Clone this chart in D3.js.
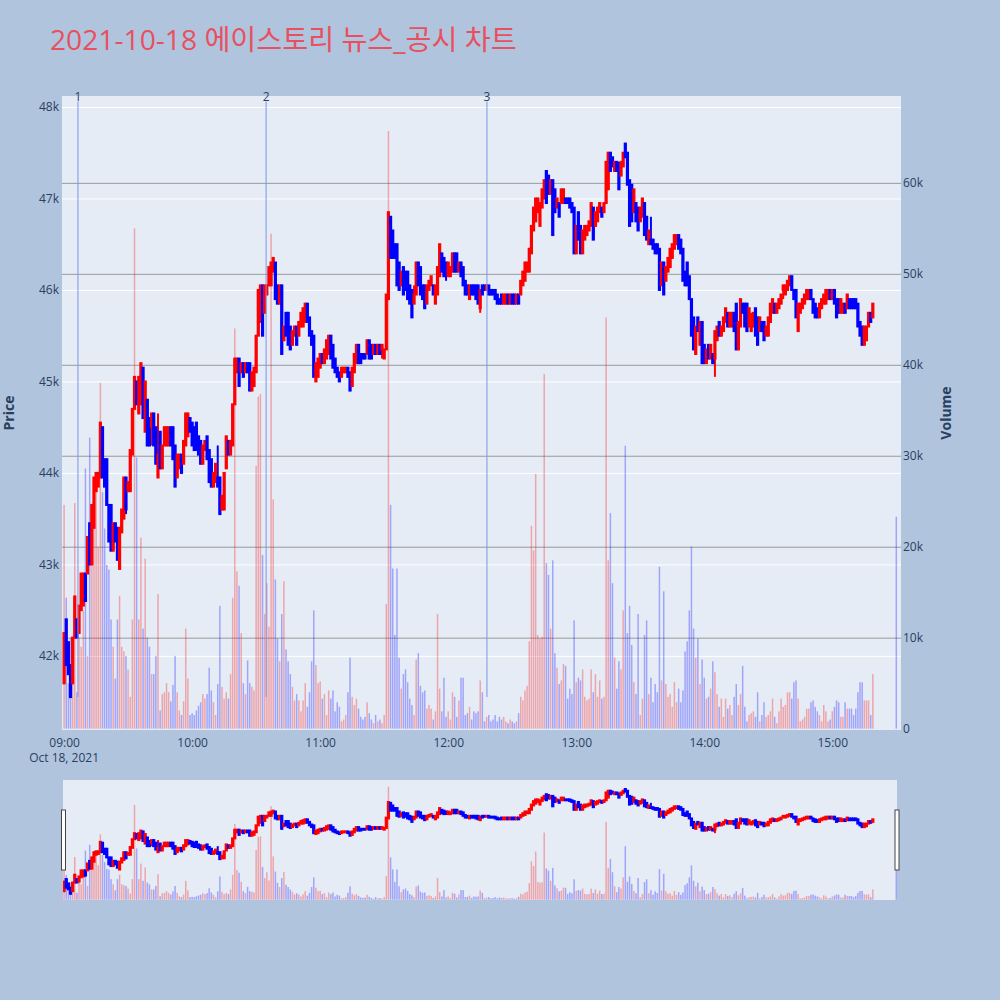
<!DOCTYPE html>
<html><head><meta charset="utf-8">
<script src="https://cdn.jsdelivr.net/npm/d3@7"></script>
<style>html,body{margin:0;padding:0;background:#b0c4de;}svg{display:block;}</style>
</head><body>
<svg id="chart" width="1000" height="1000"></svg>
<script>
// ---------------- data ----------------
const titleText = "2021-10-18 에이스토리 뉴스_공시 차트";
const sessionDay = [2021, 9, 18];          // year, monthIndex, day
const firstBar = [9, 0];                   // 09:00, one bar per minute
const openPrice = [
41700,42400,42150,41900,41700,42200,42400,42250,42500,42550,
42900,42900,43450,43000,43400,43800,43850,43950,44500,44150,
44150,43650,43650,43150,43450,43400,42950,43350,43500,43950,
43800,43800,44200,44700,45000,44650,44750,45150,44450,44800,
44600,44500,44650,44500,43950,44450,44050,44300,44300,44300,
44500,44500,44300,43950,44050,44200,44100,44300,44400,44600,
44550,44500,44550,44400,44350,44100,44250,44400,44250,44150,
43850,43900,43950,43950,43600,43600,44050,44350,44200,44300,
44750,45100,45250,45100,45200,45100,45200,45200,44900,44950,
45100,45500,45650,46050,45750,45950,46050,46050,46200,46300,
46050,45850,46050,45450,45750,45750,45600,45400,45500,45600,
45500,45600,45600,45650,45850,45700,45550,45500,45000,45050,
45150,45300,45200,45250,45300,45500,45400,45250,45150,45100,
45050,45100,45100,45150,45100,44950,45100,45200,45400,45300,
45300,45300,45300,45450,45400,45300,45400,45300,45400,45350,
45250,45350,45900,46800,46650,46500,46500,46300,46050,46250,
46200,46200,46050,46000,45850,45950,46300,46250,46050,46050,
45850,46000,46050,46050,45850,45950,46150,46400,46350,46300,
46150,46150,46200,46400,46400,46200,46300,46250,46100,46050,
45900,46050,46050,46050,46050,45800,46050,46050,46000,46050,
46000,46000,46000,45950,45900,45950,45850,45850,45950,45850,
45950,45950,45850,45950,45950,46050,46100,46200,46200,46400,
46650,46750,46850,46700,46900,47000,47300,47250,47050,47200,
47100,46900,46950,46950,46950,47000,47000,47000,46950,46900,
46400,46850,46700,46400,46550,46600,46650,46700,46900,46700,
46750,46850,46900,46850,46950,47100,47500,47450,47300,47400,
47300,47250,47350,47600,47500,47200,47150,46850,46950,46900,
46750,46800,46950,46800,46500,46550,46550,46500,46500,46450,
46050,46300,46100,46200,46250,46350,46450,46500,46600,46550,
46450,46200,46300,46150,45900,45700,45300,45700,45400,45650,
45400,45200,45400,45250,45300,45250,45450,45650,45500,45550,
45650,45750,45600,45600,45750,45850,45350,45600,45850,45850,
45850,45600,45550,45600,45800,45700,45550,45650,45650,45500,
45500,45650,45750,45850,45750,45800,45850,46000,45950,46000,
46050,46150,46000,46000,45550,45750,45800,45850,45900,45900,
46000,45900,45850,45800,45700,45800,45850,45850,45900,46000,
45900,46000,45900,45900,45750,45750,45850,45800,45900,45900,
45900,45900,45850,45650,45600,45400,45450,45600,45750,45700];
const closePrice = [
42250,41900,41800,41550,42200,42650,42200,42550,42900,42900,
42600,43300,43000,43650,43950,44000,44000,44550,43950,43850,
43650,43250,43150,43450,43250,43050,43400,43600,43950,43600,
43900,44250,44700,45050,44750,45050,45200,44600,45000,44300,
44300,44650,44300,44100,44200,44050,44300,44500,44500,44500,
44300,44150,43850,44200,44200,44000,44350,44650,44650,44450,
44300,44250,44250,44200,44100,44300,44350,44150,43900,43850,
44000,44100,43850,43550,43750,44000,44400,44200,44350,44750,
45250,45250,44950,45200,45050,45200,45100,44900,45100,45150,
45500,46000,46050,45500,46050,46050,46250,46300,46350,45900,
45850,46050,45300,45600,45500,45400,45350,45550,45600,45400,
45650,45750,45800,45850,45650,45500,45400,45050,45200,45250,
45300,45200,45350,45450,45500,45250,45150,45100,45050,45000,
45150,45150,45150,45050,44900,45150,45300,45400,45200,45200,
45250,45250,45450,45250,45250,45400,45300,45400,45300,45400,
45350,45950,46850,46350,46350,46350,46050,46000,46200,45950,
46000,45900,45850,45700,45950,46300,46050,45950,45900,45800,
46050,46100,46150,45950,46050,46250,46500,46200,46150,46250,
46300,46250,46400,46200,46200,46300,46150,46050,45950,45950,
46050,45950,45950,45900,45850,46000,45950,46000,46050,45950,
45950,45950,45900,45850,45850,45850,45950,45950,45850,45950,
45850,45850,45950,45850,46100,46200,46300,46300,46450,46700,
46900,47000,47000,46950,47100,47200,46950,47050,47200,46600,
46850,47000,46800,47100,47100,46950,46950,46900,46850,46400,
46700,46550,46400,46650,46700,46700,46750,46950,46550,46850,
46900,46950,46800,46950,47400,47500,47300,47350,47400,47300,
47100,47400,47500,47450,47150,46700,46750,47100,46750,46650,
46900,47000,46600,46550,46650,46500,46450,46400,46400,46000,
46300,45950,46250,46350,46450,46500,46600,46600,46450,46400,
46100,46050,46050,45900,45500,45350,45600,45550,45650,45200,
45200,45350,45250,45400,45200,45550,45600,45500,45600,45700,
45800,45600,45750,45750,45550,45350,45650,45900,45750,45600,
45550,45800,45600,45750,45500,45400,45700,45550,45450,45600,
45700,45850,45900,45750,45850,45900,45950,46050,46050,46100,
46150,46000,45900,45700,45850,45850,45900,45950,46000,46000,
45900,45750,45700,45700,45850,45900,45950,46000,46000,45900,
46000,45850,45700,45750,45900,45850,45750,45950,45800,45800,
45800,45800,45600,45500,45400,45600,45600,45750,45650,45850];
// [bar index, high, low] where the wick goes beyond the body
const wicks = [[29,43950,43550],[41,44650,44300],[44,44650,43950],[72,44300,43850],[87,45200,44900],
  [102,46050,45300],[117,45500,45050],[149,45400,45250],[164,46050,45850],[179,46300,46100],
  [195,46000,45750],[260,47400,47100],[275,46800,46500],[290,46450,46100],[305,45550,45050],
  [322,45750,45550],[337,46050,45900]];
const volumeThousands = [
24.6,14.4,5,10,5,24.8,4,10,9,13,
28.6,8,32,22,27,26,20,38,26,22,
18,17.5,12,9,5.5,12,14.6,9,8.5,8,
6.5,3.5,12,55,29.8,12,21,11,18.7,10,
9,6,6,8,14.8,2,3.8,4,5,4,
3,4.8,8,4,2,1.5,3,11,5.5,1.5,
1.7,1.5,2.0,2.5,2.9,3.8,3.3,3.8,6.7,4.2,
2.9,1.5,4.9,13.5,4.6,3.3,4.0,3.3,6.0,14.4,
44.0,17.3,15.7,10.5,5.0,3.8,7.5,5.0,4.6,4.2,
28.9,36.5,36.8,19.1,12.6,16.0,11.2,54.4,25.2,16.4,
9.9,7.4,12.6,16.2,8.7,7.4,6.0,4.6,3.1,3.8,
3.1,1.9,3.1,5.0,2.4,4.0,7.4,13.0,7.0,5.0,
5.2,3.3,3.8,1.5,4.2,3.3,4.2,1.9,2.9,2.4,
0.8,1.0,1.5,4.0,7.8,3.5,2.6,3.3,2.2,1.3,
1.0,1.3,2.9,1.7,1.0,0.6,1.5,0.8,1.0,0.6,
1.5,13.7,65.7,24.6,17.6,10.3,17.6,7.8,4.4,6.0,
6.5,5.1,3.3,2.6,1.5,7.6,8.3,4.7,4.0,4.2,
2.2,2.6,2.2,1.0,1.9,12.6,4.4,1.9,5.6,1.3,
1.9,1.0,4.0,3.5,1.3,3.1,5.6,5.6,1.5,1.7,
2.4,1.0,1.9,1.7,1.9,5.3,4.0,0.8,1.3,1.5,
0.8,1.0,1.5,0.8,1.3,1.0,1.3,0.8,0.6,1.0,
0.8,0.6,0.8,1.7,3.5,3.1,4.2,4.7,9.6,22.3,
19.6,28.0,10.3,9.9,10.1,39.0,18.2,16.9,11.0,18.5,
8.3,6.7,4.9,5.3,7.1,6.9,3.3,4.4,3.8,11.9,
5.1,5.6,5.3,6.5,3.5,3.1,3.3,6.5,4.0,6.0,
3.5,5.3,3.3,3.5,45.2,18.5,23.7,16.0,7.8,4.4,
7.4,6.5,13.0,31.1,10.5,13.5,9.2,5.1,3.8,12.6,
1.5,3.3,10.3,11.9,3.8,5.6,2.9,4.9,4.0,17.8,
5.3,15.1,4.9,3.5,3.8,2.4,5.1,2.9,4.4,2.9,
4.2,8.5,9.6,13.0,20.0,11.0,7.8,9.9,4.9,7.6,
5.6,3.3,3.5,4.4,7.4,6.2,3.8,2.4,3.3,1.3,
3.3,2.2,2.6,1.5,3.5,4.9,2.6,3.8,6.9,2.4,
0.8,1.5,1.7,1.9,1.3,4.0,0.8,1.5,2.9,1.3,
1.5,1.9,3.3,1.3,0.6,1.9,3.3,2.4,2.6,4.0,
4.0,3.3,5.1,5.3,3.3,0.8,1.0,1.3,2.2,2.2,
2.9,3.1,2.4,1.9,1.5,0.8,2.6,1.9,0.8,1.0,
1.9,2.4,3.1,2.9,1.3,1.3,2.9,2.2,2.2,2.2,
1.5,2.2,4.0,5.1,5.1,3.1,3.1,3.1,1.5,6.0];
// closing single-price auction bar
const auctionTime = [15, 30];
const auctionOHLC = [45800, 45800, 45800, 45800];
const auctionVolumeThousands = 23.3;
// news / disclosure markers
const newsTimes = [[9, 6, 30], [10, 34, 40], [12, 18, 10]];
const newsLabels = ["1", "2", "3"];
const priceTicks = [42000, 43000, 44000, 45000, 46000, 47000, 48000];
const volumeTicks = [0, 10000, 20000, 30000, 40000, 50000, 60000];

// ---------------- build rows ----------------
const rows = openPrice.map((o, i) => {
  const c = closePrice[i];
  return {t: new Date(sessionDay[0], sessionDay[1], sessionDay[2], firstBar[0], firstBar[1] + i),
          o, c, h: Math.max(o, c), l: Math.min(o, c), v: volumeThousands[i] * 1000};
});
wicks.forEach(([i, h, l]) => { rows[i].h = Math.max(rows[i].h, h); rows[i].l = Math.min(rows[i].l, l); });
rows.push({t: new Date(sessionDay[0], sessionDay[1], sessionDay[2], auctionTime[0], auctionTime[1]),
  o: auctionOHLC[0], h: auctionOHLC[1], l: auctionOHLC[2], c: auctionOHLC[3], v: auctionVolumeThousands * 1000});
const UP = "#ff0000", DOWN = "#0000ff";
rows.forEach((d, i) => {
  d.col = d.c >= d.o ? UP : DOWN;
  const prev = i > 0 ? rows[i - 1].c : d.o;
  d.vcol = d.c > d.o ? UP : d.c < d.o ? DOWN : (d.c >= prev ? UP : DOWN);
});

// ---------------- layout ----------------
const svg = d3.select("#chart");
const P = {x0: 62, x1: 901, y0: 96, y1: 730};
const S = {x0: 63, x1: 897, y0: 780, y1: 900};
const FONT = "'Open Sans', 'Noto Sans CJK KR', sans-serif";
const TXT = "#2a3f5f";

const x = d3.scaleTime()
  .domain([new Date(2021, 9, 18, 8, 59, 1), new Date(2021, 9, 18, 15, 32, 12)])
  .range([P.x0, P.x1]);
const yP = d3.scaleLinear().domain([41190, 48120]).range([P.y1, P.y0]);
const yV = d3.scaleLinear().domain([-150, 69550]).range([P.y1, P.y0]);
const yPs = yP.copy().range([S.y1, S.y0]);
const yVs = yV.copy().range([S.y1, S.y0]);

svg.append("rect").attr("width", 1000).attr("height", 1000).attr("fill", "#b0c4de");

const defs = svg.append("defs");
defs.append("clipPath").attr("id", "clipMain").append("rect")
  .attr("x", P.x0).attr("y", P.y0).attr("width", P.x1 - P.x0).attr("height", P.y1 - P.y0);
defs.append("clipPath").attr("id", "clipSlider").append("rect")
  .attr("x", S.x0).attr("y", S.y0).attr("width", S.x1 - S.x0).attr("height", S.y1 - S.y0);

// title
svg.append("text").attr("x", 50).attr("y", 50).text(titleText)
  .attr("font-family", FONT).attr("font-size", 28.2).attr("fill", "#e8505f");

// plot background
svg.append("rect").attr("x", P.x0).attr("y", P.y0).attr("width", P.x1 - P.x0).attr("height", P.y1 - P.y0)
  .attr("fill", "#e5ecf6");

// price grid (white)
const gGridP = svg.append("g").attr("transform", `translate(${P.x0},0)`)
  .call(d3.axisLeft(yP).tickValues(priceTicks).tickSize(-(P.x1 - P.x0)).tickFormat(""));
gGridP.select(".domain").remove();
gGridP.selectAll("line").attr("stroke", "#ffffff").attr("stroke-width", 1);

// volume grid (grey)
const gGridV = svg.append("g").attr("transform", `translate(${P.x1},0)`)
  .call(d3.axisRight(yV).tickValues(volumeTicks.filter(v => v > 0)).tickSize(-(P.x1 - P.x0)).tickFormat(""));
gGridV.select(".domain").remove();
gGridV.selectAll("line").attr("stroke", "#9a9a9a").attr("stroke-width", 1);

function drawSeries(g, ysP, ysV) {
  g.append("g").selectAll("rect").data(rows).join("rect")
    .attr("x", d => x(d.t) - 0.75).attr("width", 1.5)
    .attr("y", d => ysV(d.v)).attr("height", d => ysV(0) - ysV(d.v))
    .attr("fill", d => d.vcol).attr("fill-opacity", 0.3);
  g.append("g").selectAll("line").data(rows).join("line")
    .attr("x1", d => x(d.t)).attr("x2", d => x(d.t))
    .attr("y1", d => ysP(d.h)).attr("y2", d => ysP(d.l))
    .attr("stroke", d => d.col).attr("stroke-width", 2);
  g.append("g").selectAll("rect").data(rows).join("rect")
    .attr("x", d => x(d.t) - 0.6).attr("width", 1.2)
    .attr("y", d => ysP(Math.max(d.o, d.c)))
    .attr("height", d => Math.abs(ysP(d.o) - ysP(d.c)))
    .attr("fill", d => d.col).attr("stroke", d => d.col).attr("stroke-width", 2);
}

const gMain = svg.append("g").attr("clip-path", "url(#clipMain)");
drawSeries(gMain, yP, yV);

// news markers
const newsDates = newsTimes.map(([h, m, s]) => new Date(2021, 9, 18, h, m, s));
svg.append("g").selectAll("line").data(newsDates).join("line")
  .attr("x1", d => x(d)).attr("x2", d => x(d))
  .attr("y1", yP(48060)).attr("y2", yP(41550))
  .attr("stroke", "#7b95e8").attr("stroke-width", 1);
svg.append("g").selectAll("text").data(newsDates).join("text")
  .attr("x", d => x(d)).attr("y", 101).attr("text-anchor", "middle")
  .attr("font-family", FONT).attr("font-size", 12).attr("fill", TXT)
  .text((d, i) => newsLabels[i]);

// axes labels
const axP = svg.append("g").attr("transform", `translate(${P.x0},0)`)
  .call(d3.axisLeft(yP).tickValues(priceTicks).tickSize(0).tickPadding(3).tickFormat(v => (v / 1000) + "k"));
axP.select(".domain").remove();
axP.selectAll("text").attr("font-family", FONT).attr("font-size", 12).attr("fill", TXT);

const axV = svg.append("g").attr("transform", `translate(${P.x1},0)`)
  .call(d3.axisRight(yV).tickValues(volumeTicks).tickSize(0).tickPadding(2).tickFormat(v => v === 0 ? "0" : (v / 1000) + "k"));
axV.select(".domain").remove();
axV.selectAll("text").attr("font-family", FONT).attr("font-size", 12).attr("fill", TXT);

const axX = svg.append("g").attr("transform", `translate(0,${P.y1})`)
  .call(d3.axisBottom(x).ticks(d3.timeHour.every(1)).tickSize(0).tickPadding(8).tickFormat(d3.timeFormat("%H:%M")));
axX.select(".domain").remove();
axX.selectAll("text").attr("font-family", FONT).attr("font-size", 12).attr("fill", TXT);
svg.append("text").attr("x", x(new Date(2021, 9, 18, 9, 0))).attr("y", 762).attr("text-anchor", "middle")
  .attr("font-family", FONT).attr("font-size", 12).attr("fill", TXT).text("Oct 18, 2021");

svg.append("text").attr("transform", "translate(14,413) rotate(-90)").attr("text-anchor", "middle")
  .attr("font-family", FONT).attr("font-size", 14).attr("font-weight", "bold").attr("fill", TXT).text("Price");
svg.append("text").attr("transform", "translate(951,413) rotate(-90)").attr("text-anchor", "middle")
  .attr("font-family", FONT).attr("font-size", 14).attr("font-weight", "bold").attr("fill", TXT).text("Volume");

// range slider
svg.append("rect").attr("x", S.x0).attr("y", S.y0).attr("width", S.x1 - S.x0).attr("height", S.y1 - S.y0)
  .attr("fill", "#e5ecf6");
const gSl = svg.append("g").attr("clip-path", "url(#clipSlider)");
drawSeries(gSl, yPs, yVs);
[[61.5], [895]].forEach(([hx]) => {
  svg.append("rect").attr("x", hx).attr("y", 810).attr("width", 4).attr("height", 60)
    .attr("fill", "#ffffff").attr("stroke", "#444").attr("stroke-width", 1);
});
</script>
</body></html>
